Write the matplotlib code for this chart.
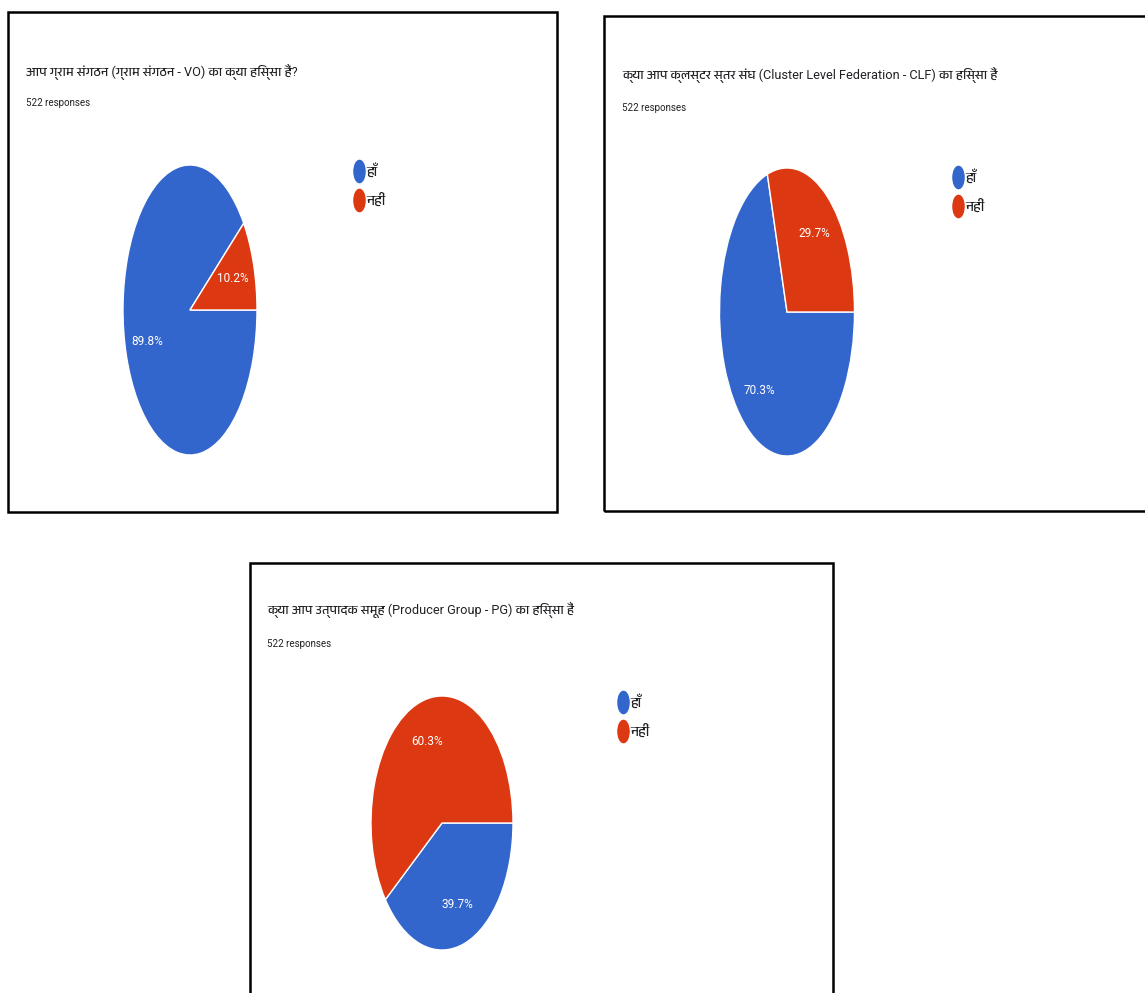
import matplotlib
matplotlib.use("Agg")
import matplotlib.pyplot as plt
from matplotlib import font_manager, ft2font
from matplotlib.patches import Rectangle
from matplotlib.path import Path
from matplotlib.transforms import Affine2D
from matplotlib.lines import Line2D

# ---- data ----
titles = [
    "आप ग्राम संगठन (ग्राम संगठन - VO) का क्या हिस्सा हैं?",
    "क्या आप क्लस्टर स्तर संघ (Cluster Level Federation - CLF) का हिस्सा हैं",
    "क्या आप उत्पादक समूह (Producer Group - PG) का हिस्सा हैं",
]
responses = ["522 responses", "522 responses", "522 responses"]
answers = ["हाँ", "नहीं"]
vo_share = [89.8, 10.2]
clf_share = [70.3, 29.7]
pg_share = [39.7, 60.3]

BLUE = "#3366CC"
RED = "#DC3912"
W, H = 1145, 993


def devanagari_family():
    names = []
    for fe in font_manager.fontManager.ttflist:
        try:
            if 0x0915 in ft2font.FT2Font(fe.fname).get_charmap():
                names.append(fe.name)
        except Exception:
            pass
    names.sort(key=lambda n: (0 if "Devanagari" in n else 1, n))
    return names[0] if names else None


dev = devanagari_family()
family = ["Roboto"] + ([dev] if dev else []) + ["DejaVu Sans"]
plt.rcParams["font.family"] = family

fig = plt.figure(figsize=(W / 100, H / 100), dpi=100)
fig.patch.set_facecolor("white")


def fx(x):
    return x / W


def fy(y):
    return 1 - y / H


def box(x0, y0, x1, y1):
    return [fx(x0), fy(y1), fx(x1) - fx(x0), fy(y0) - fy(y1)]


# panel frames (left, top, right, bottom in pixels)
panels = [(8, 12, 557, 512), (604, 16, 1152, 511), (250, 563, 833, 1000)]
for x0, y0, x1, y1 in panels:
    fig.add_artist(Rectangle((fx(x0), fy(y1)), fx(x1) - fx(x0), fy(y0) - fy(y1),
                             transform=fig.transFigure, fill=False,
                             edgecolor="black", linewidth=1.8, clip_on=False))

# pie ellipses: centre x, centre y, x radius, y radius
pies = [(190, 310, 67, 145), (787, 312, 67.5, 144), (442, 823, 71, 127)]
shares = [vo_share, clf_share, pg_share]
title_pos = [(26, 72), (622, 75), (267, 610)]
resp_pos = [(26, 103), (622, 108), (267, 644)]
legend_pos = [(355, 164), (954, 170), (619, 695)]

dot = Path.unit_circle().transformed(Affine2D().scale(0.5, 1.0))
handles = [Line2D([], [], linestyle="none", marker=dot, markersize=16,
                  markerfacecolor=c, markeredgecolor=c) for c in (BLUE, RED)]

for i, ((cx, cy, rx, ry), vals) in enumerate(zip(pies, shares)):
    ax = fig.add_axes(box(cx - rx, cy - ry, cx + rx, cy + ry))
    ax.pie(vals, colors=[BLUE, RED], startangle=0, counterclock=False,
           autopct="%.1f%%", pctdistance=0.68, radius=1.0,
           wedgeprops=dict(edgecolor="white", linewidth=1.0),
           textprops=dict(color="white", fontsize=8.5))
    ax.set_xlim(-1.0, 1.0)
    ax.set_ylim(-1.0, 1.0)
    ax.set_aspect("auto")
    ax.axis("off")

    tx, ty = title_pos[i]
    fig.text(fx(tx), fy(ty), titles[i], fontsize=9.2, color="#202124",
             va="center", ha="left")
    rxp, ryp = resp_pos[i]
    fig.text(fx(rxp), fy(ryp), responses[i], fontsize=7, color="#202124",
             va="center", ha="left")

    lx, ly = legend_pos[i]
    fig.legend(handles, answers, loc="upper left",
               bbox_to_anchor=(fx(lx), fy(ly)), frameon=False,
               fontsize=10, handlelength=0.6, handletextpad=0.2,
               labelspacing=1.1, borderaxespad=0, borderpad=0,
               labelcolor="#202124")

fig.savefig("out.png", dpi=100, facecolor="white")
